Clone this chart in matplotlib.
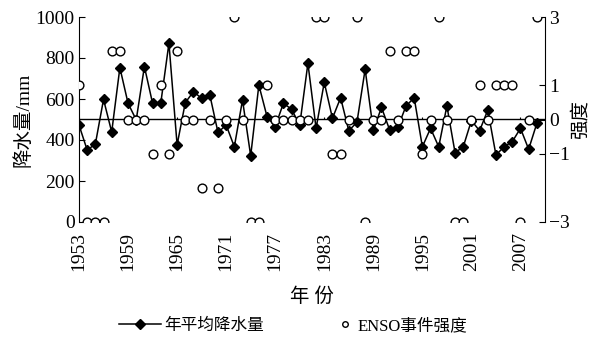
import numpy as np
import matplotlib
matplotlib.use("Agg")
import matplotlib.pyplot as plt
from matplotlib.lines import Line2D

plt.rcParams['font.family'] = ['Liberation Serif', 'Noto Sans CJK SC']

# годы и данные
years = list(range(1953, 2010))
precip = [473, 351, 380, 598, 439, 753, 579, 498, 758, 579,
          579, 872, 376, 582, 636, 603, 620, 437, 473, 367,
          595, 323, 668, 514, 465, 579, 550, 473, 774, 457,
          681, 506, 606, 445, 487, 745, 447, 559, 449, 462,
          566, 606, 367, 457, 367, 566, 338, 367, 495, 445,
          546, 327, 367, 392, 457, 355, 481]
enso = [1, -3, -3, -3, 2, 2, 0, 0, 0, -1,
        1, -1, 2, 0, 0, -2, 0, -2, 0, 3,
        0, -3, -3, 1, 0, 0, 0, 0, 0, 3,
        3, -1, -1, 0, 3, -3, 0, 0, 2, 0,
        2, 2, -1, 0, 3, 0, -3, -3, 0, 1,
        0, 1, 1, 1, -3, 0, 3]
year_ticks = list(range(1953, 2008, 6))
left_ticks = [0, 200, 400, 600, 800, 1000]
right_ticks = [-3, -1, 0, 1, 3]

fig = plt.figure(figsize=(5.98, 3.38), dpi=100)
ax = fig.add_axes([79/598, 1-222/338, (545-79)/598, (222-17)/338])

ax.plot(years, precip, color='black', lw=1.1, marker='D', markersize=5.5, zorder=3)
ax.axhline(500, color='black', lw=1.0, zorder=2)
ax.vlines(year_ticks, 500, 512, color='black', lw=0.8, zorder=2)

ax.set_xlim(1953, 2010)
ax.set_ylim(0, 1000)
ax.set_yticks(left_ticks)
ax.set_xticks(year_ticks)
ax.set_xticklabels([str(y) for y in year_ticks], rotation=90)
ax.tick_params(axis='x', length=0, labelsize=14, pad=7)
ax.tick_params(axis='y', direction='in', length=4, labelsize=14, pad=3)
ax.spines['top'].set_visible(False)
ax.spines['bottom'].set_visible(False)
ax.spines['right'].set_visible(False)
ax.set_ylabel('降水量/mm', fontsize=14, labelpad=2)
ax.set_xlabel('年 份', fontsize=14, labelpad=12)

ax2 = ax.twinx()
ax2.plot(years, enso, linestyle='none', marker='o', markersize=6.3,
         markerfacecolor='white', markeredgecolor='black', markeredgewidth=1.0, zorder=4)
ax2.set_ylim(-3, 3)
ax2.set_yticks(right_ticks)
ax2.tick_params(axis='y', direction='in', length=4, labelsize=14, pad=3)
for s in ['top', 'bottom', 'left']:
    ax2.spines[s].set_visible(False)
ax2.set_ylabel('强度', fontsize=14, labelpad=1)

# легенда из двух частей
h_line = Line2D([], [], color='black', lw=1.1, marker='D', markersize=5)
h_circ = Line2D([], [], linestyle='none', marker='o', markersize=4,
                markerfacecolor='white', markeredgecolor='black')
fig.legend([h_line], ['年平均降水量'], loc='center', bbox_to_anchor=(0.32, 0.035),
           frameon=False, fontsize=12, handlelength=2.5, handletextpad=0.2)
fig.legend([h_circ], ['ENSO事件强度'], loc='center', bbox_to_anchor=(0.675, 0.035),
           frameon=False, fontsize=12, handlelength=0.6, handletextpad=0.4)

fig.savefig('out.png', dpi=100)
